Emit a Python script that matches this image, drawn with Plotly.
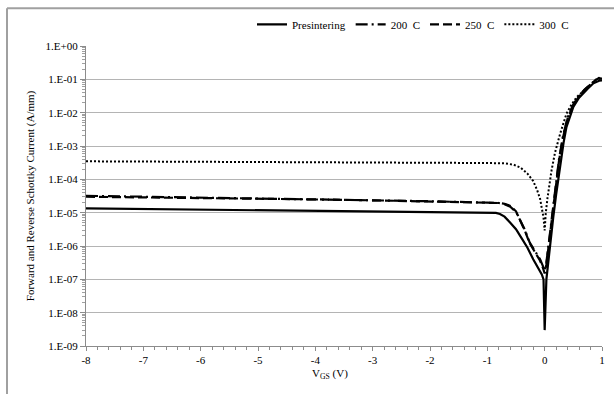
import plotly.graph_objects as go

# ---- data ----
v_pre = [-8, -7, -6, -5, -4, -3, -2, -1, -0.85, -0.78, -0.7, -0.6, -0.5, -0.4, -0.3, -0.2, -0.1, -0.05, -0.02, 0,
         0.03, 0.06, 0.1, 0.15, 0.2, 0.27, 0.33, 0.38, 0.45, 0.5, 0.6, 0.67, 0.75, 0.85, 0.95, 1.0]
i_pre = [1.35e-5, 1.3e-5, 1.24e-5, 1.18e-5, 1.13e-5, 1.08e-5, 1.03e-5, 1.0e-5, 9.8e-6, 9.1e-6, 7.6e-6, 5.0e-6,
         3.2e-6, 1.7e-6, 8.9e-7, 4.0e-7, 2.0e-7, 1.4e-7, 1.0e-7, 3.0e-9,
         1.0e-7, 3.2e-7, 1.4e-6, 7.4e-6, 3.5e-5, 3.0e-4, 1.26e-3, 3.7e-3, 8.9e-3, 1.48e-2, 2.8e-2, 3.8e-2,
         5.2e-2, 7.6e-2, 9.1e-2, 9.3e-2]

v_200 = [-8, -7, -6, -5, -4, -3, -2, -1, -0.8, -0.7, -0.6, -0.5, -0.43, -0.35, -0.26, -0.17, -0.08, -0.03, 0,
         0.03, 0.07, 0.12, 0.18, 0.25, 0.32, 0.4, 0.5, 0.6, 0.7, 0.8, 0.9, 0.95, 1.0]
i_200 = [3.2e-5, 3.0e-5, 2.9e-5, 2.75e-5, 2.6e-5, 2.4e-5, 2.2e-5, 2.0e-5, 1.95e-5, 1.8e-5, 1.5e-5, 1.05e-5,
         6.3e-6, 3.2e-6, 1.26e-6, 7.1e-7, 4.0e-7, 2.5e-7, 1.8e-7,
         3.2e-7, 1.26e-6, 6.3e-6, 5.0e-5, 4.0e-4, 2.0e-3, 7.1e-3, 1.8e-2, 3.2e-2, 5.0e-2, 7.1e-2, 9.5e-2,
         1.07e-1, 1.05e-1]

v_250 = [-8, -7, -6, -5, -4, -3, -2, -1, -0.8, -0.7, -0.6, -0.5, -0.43, -0.35, -0.26, -0.17, -0.08, -0.03, 0,
         0.03, 0.07, 0.12, 0.18, 0.25, 0.32, 0.4, 0.5, 0.6, 0.7, 0.8, 0.9, 0.95, 1.0]
i_250 = [3.0e-5, 2.9e-5, 2.8e-5, 2.65e-5, 2.5e-5, 2.35e-5, 2.2e-5, 2.0e-5, 1.95e-5, 1.85e-5, 1.6e-5, 1.1e-5,
         6.0e-6, 3.0e-6, 1.2e-6, 6.6e-7, 3.6e-7, 2.2e-7, 1.5e-7,
         2.8e-7, 1.1e-6, 5.6e-6, 4.5e-5, 3.6e-4, 1.8e-3, 6.6e-3, 1.7e-2, 3.1e-2, 4.9e-2, 7.2e-2, 9.8e-2,
         1.1e-1, 1.08e-1]

v_300 = [-8, -7, -6, -5, -4, -3, -2, -1, -0.7, -0.54, -0.42, -0.3, -0.2, -0.13, -0.08, -0.05, -0.02, 0,
         0.02, 0.05, 0.08, 0.12, 0.18, 0.27, 0.38, 0.47, 0.56, 0.67, 0.79, 0.9, 0.95, 1.0]
i_300 = [3.47e-4, 3.43e-4, 3.39e-4, 3.35e-4, 3.31e-4, 3.24e-4, 3.16e-4, 3.09e-4, 3.02e-4, 2.75e-4, 2.24e-4,
         1.48e-4, 8.9e-5, 4.7e-5, 2.6e-5, 1.48e-5, 7.1e-6, 2.95e-6,
         1.0e-5, 2.8e-5, 6.3e-5, 1.86e-4, 6.3e-4, 2.34e-3, 9.3e-3, 1.78e-2, 2.95e-2, 4.47e-2, 6.6e-2, 1.0e-1,
         1.07e-1, 1.0e-1]

names = ["Presintering", "200\u00a0\u00a0C", "250\u00a0\u00a0C", "300\u00a0\u00a0C"]
y_tickvals = [1e0, 1e-1, 1e-2, 1e-3, 1e-4, 1e-5, 1e-6, 1e-7, 1e-8, 1e-9]
y_ticktext = ["1.E+00", "1.E-01", "1.E-02", "1.E-03", "1.E-04", "1.E-05", "1.E-06", "1.E-07", "1.E-08", "1.E-09"]
x_tickvals = [-8, -7, -6, -5, -4, -3, -2, -1, 0, 1]
x_ticktext = ["-8", "-7", "-6", "-5", "-4", "-3", "-2", "-1", "0", "1"]

FONT = "Liberation Serif"

fig = go.Figure()
series = [
    (v_pre, i_pre, names[0], "solid", 2.2),
    (v_200, i_200, names[1], "12px,4px,2px,4px", 2.2),
    (v_250, i_250, names[2], "9px,4px", 2.2),
    (v_300, i_300, names[3], "2px,2px", 2),
]
for v, i, n, d, w in series:
    fig.add_trace(go.Scatter(x=v, y=i, name=n, mode="lines",
                             line=dict(color="black", width=w, dash=d)))

minor_y = [k * 10.0 ** e for e in range(-9, 0) for k in range(2, 10)]
minor_x = [round(-8 + 0.2 * k, 2) for k in range(46) if k % 5 != 0]

fig.update_layout(
    width=614, height=394,
    margin=dict(l=86, r=12, t=46, b=48, autoexpand=False),
    paper_bgcolor="white", plot_bgcolor="white",
    font=dict(family=FONT, size=11, color="black"),
    showlegend=True,
    legend=dict(orientation="h", x=(252 - 86) / 516, xanchor="left", y=1 + (45.7 - 24) / 300, yanchor="middle",
                font=dict(family=FONT, size=11), bgcolor="rgba(0,0,0,0)",
                itemwidth=30, tracegroupgap=0),
    xaxis=dict(range=[-8, 1], tickmode="array", tickvals=x_tickvals, ticktext=x_ticktext,
               automargin=False,
               showgrid=False, zeroline=False, showline=True, linecolor="#8c8c8c", linewidth=1,
               ticks="outside", ticklen=4, tickcolor="#8c8c8c",
               minor=dict(tickmode="array", tickvals=minor_x, ticks="outside", ticklen=3,
                          tickcolor="#8c8c8c", showgrid=False),
               tickfont=dict(family=FONT, size=11)),
    yaxis=dict(type="log", range=[-9, 0], tickmode="array", tickvals=y_tickvals, ticktext=y_ticktext,
               automargin=False,
               showgrid=True, gridcolor="#b4b4b4", gridwidth=1, zeroline=False,
               showline=True, linecolor="#8c8c8c", linewidth=1,
               ticks="outside", ticklen=5, tickcolor="#8c8c8c",
               minor=dict(tickmode="array", tickvals=minor_y, ticks="outside", ticklen=3,
                          tickcolor="#a0a0a0", showgrid=False),
               tickfont=dict(family=FONT, size=11),
               title=dict(text="Forward and Reverse Schottky Current (A/mm)",
                          font=dict(family=FONT, size=11), standoff=8)),
    annotations=[dict(text="V<sub>GS</sub> (V)", xref="paper", yref="paper",
                      x=(330 - 86) / 516, y=-(374 - 345.7) / 300, xanchor="center", yanchor="middle",
                      showarrow=False, font=dict(family=FONT, size=11))],
    shapes=[
        dict(type="line", xref="paper", yref="paper", x0=(7 - 86) / 516, x1=1.1,
             y0=1 + (45.7 - 8) / 300, y1=1 + (45.7 - 8) / 300, line=dict(color="#a0a0a0", width=2)),
        dict(type="line", xref="paper", yref="paper", x0=(7 - 86) / 516, x1=(7 - 86) / 516,
             y0=1 + (45.7 - 8) / 300, y1=-0.2, line=dict(color="#a0a0a0", width=2)),
    ],
)

fig.write_html("out.html", config={"displayModeBar": False},
               post_script="document.body.style.margin='0';document.body.style.overflow='hidden';")
